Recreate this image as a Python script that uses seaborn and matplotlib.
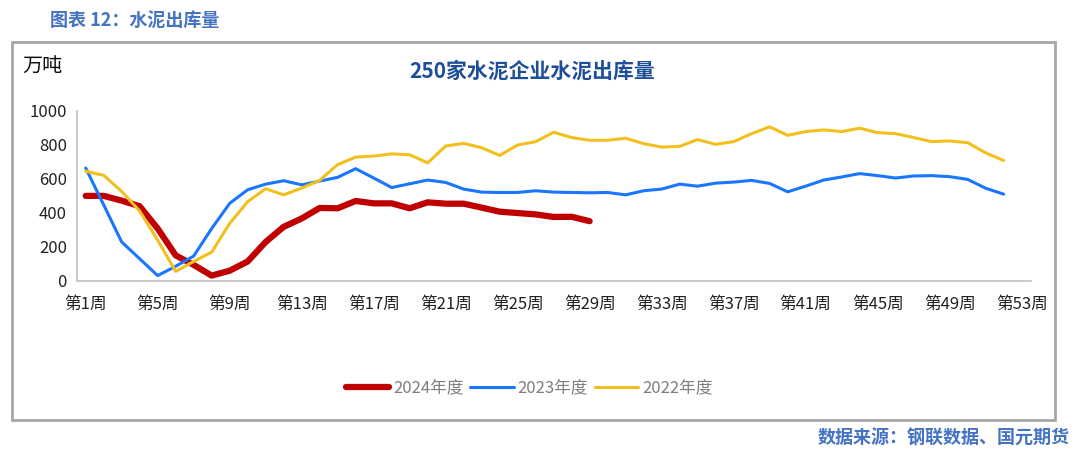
import numpy as np
import pandas as pd
import matplotlib
matplotlib.use("Agg")
import matplotlib.pyplot as plt
import matplotlib.patches as patches
import seaborn as sns

sns.set_style("white")
plt.rcParams['font.family'] = ['Noto Sans CJK SC', 'DejaVu Sans']

# weekly cement shipments (10k tonnes)
y2024 = [499, 499, 471, 438, 307, 149, 93, 30, 59, 113, 228, 317, 366, 428,
         426, 469, 455, 455, 426, 461, 453, 453, 430, 406, 398, 390, 375, 376,
         350]
y2023 = [663, 446, 228, 129, 30, 85, 145, 307, 455, 535, 568, 588, 564, 586,
         608, 659, 604, 548, 570, 592, 578, 539, 521, 519, 519, 529, 521, 519,
         517, 519, 505, 529, 539, 568, 556, 574, 580, 590, 572, 523, 556, 592,
         610, 630, 618, 604, 616, 618, 612, 596, 544, 509]
y2022 = [644, 620, 525, 410, 238, 55, 113, 168, 337, 465, 541, 505, 545, 590,
         683, 727, 733, 746, 741, 693, 792, 808, 782, 737, 798, 818, 873, 842,
         826, 826, 838, 806, 786, 790, 830, 802, 818, 865, 905, 855, 877, 887,
         877, 897, 871, 865, 842, 818, 822, 812, 752, 707]
n_weeks = 53
tick_weeks = list(range(1, n_weeks + 1, 4))
tick_labels = [f"第{w}周" for w in tick_weeks]
series_names = ["2024年度", "2023年度", "2022年度"]

RED = "#C00000"
BLUE = "#1A75FF"
YELLOW = "#F2C01E"
HEAD_BLUE = "#4472C4"

fig = plt.figure(figsize=(10.8, 4.71), dpi=100)
ax = fig.add_axes([0.071, 0.404, 0.8833, 0.361])

for vals, name, col, lw in [(y2024, series_names[0], RED, 4.5),
                            (y2023, series_names[1], BLUE, 2.2),
                            (y2022, series_names[2], YELLOW, 2.2)]:
    weeks = np.arange(1, len(vals) + 1)
    sns.lineplot(x=weeks, y=vals, ax=ax, color=col, linewidth=lw,
                 label=name, solid_capstyle="round")

ax.set_xlim(0.5, n_weeks + 0.5)
ax.set_ylim(0, 1000)
ax.set_yticks(range(0, 1001, 200))
ax.set_xticks(tick_weeks)
ax.set_xticklabels(tick_labels)
ax.set_xticks(np.arange(0.5, n_weeks + 1, 1), minor=True)
ax.tick_params(axis="x", which="major", length=0, pad=11, labelsize=12,
               colors="#222222")
ax.tick_params(axis="x", which="minor", length=6, color="#BFBFBF", width=1)
ax.tick_params(axis="y", length=4, color="#BFBFBF", labelsize=12, pad=3,
               labelcolor="#222222")
for s in ["top", "right"]:
    ax.spines[s].set_visible(False)
for s in ["left", "bottom"]:
    ax.spines[s].set_color("#BFBFBF")
    ax.spines[s].set_linewidth(1.2)
ax.set_xlabel("")
ax.set_ylabel("")
ax.grid(False)

leg = ax.legend(loc="center", bbox_to_anchor=(0.49, 0.176),
                bbox_transform=fig.transFigure, ncol=3, frameon=False,
                fontsize=12, handlelength=2.6, handletextpad=0.25,
                columnspacing=0.4)
for t in leg.get_texts():
    t.set_color("#7F7F7F")

# outer frame
fig.patches.append(patches.Rectangle((12 / 1080, 1 - 420 / 471),
                                     1043 / 1080, 378 / 471,
                                     transform=fig.transFigure, fill=False,
                                     edgecolor="#A6A6A6", linewidth=2))

fig.text(50 / 1080, 1 - 20 / 471, "图表 12：水泥出库量", color=HEAD_BLUE,
         fontsize=13, fontweight="bold", va="center", ha="left")
fig.text(22 / 1080, 1 - 67 / 471, "万吨", fontsize=14.5, color="#111111",
         va="center", ha="left")
fig.text(532 / 1080, 1 - 71 / 471, "250家水泥企业水泥出库量", color="#1F4E99",
         fontsize=15, fontweight="bold", va="center", ha="center")
fig.text(1070 / 1080, 1 - 438 / 471, "数据来源：钢联数据、国元期货",
         color=HEAD_BLUE, fontsize=13, fontweight="bold", va="center",
         ha="right")

fig.savefig("out.png", dpi=100)
